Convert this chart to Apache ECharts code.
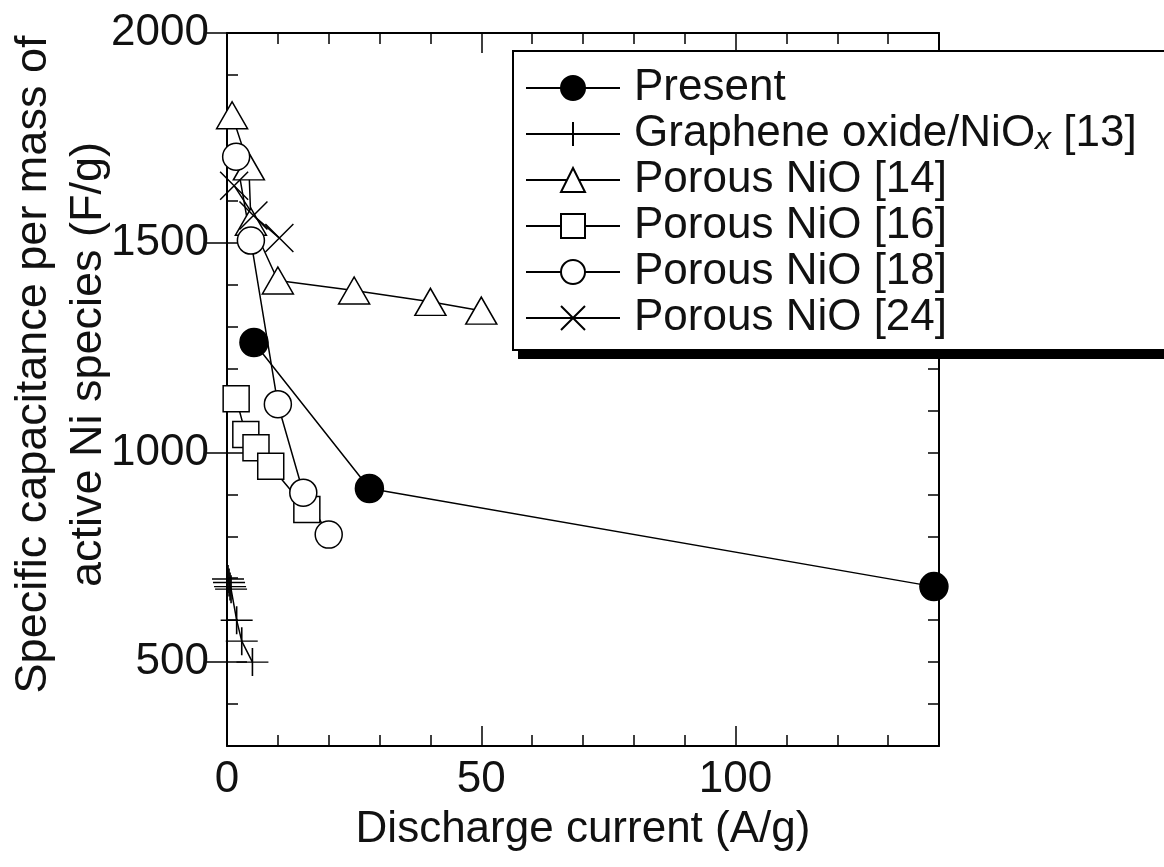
<!DOCTYPE html>
<html>
<head>
<meta charset="utf-8">
<script src="https://cdn.jsdelivr.net/npm/echarts@6/dist/echarts.min.js"></script>
<style>
  html, body { margin: 0; padding: 0; background: #fff; }
  #chart { width: 1164px; height: 867px; }
</style>
</head>
<body>
<div id="chart"></div>
<script>
// values: [discharge current (A/g), capacitance (F/g)]
const present = [[5.3, 1262], [28, 914], [139, 680]];
const grapheneNiOx13 = [[0.2, 698], [0.4, 690], [0.6, 680], [0.8, 674], [1.9, 600], [2.9, 550], [5, 500]];
const porousNiO14 = [[1, 1804], [4.3, 1682], [4.7, 1550], [10, 1410], [25, 1386], [40, 1359], [50, 1338]];
const porousNiO16 = [[1.8, 1128], [3.7, 1043], [5.7, 1011], [8.6, 967], [15.7, 864]];
const porousNiO18 = [[1.8, 1705], [4.7, 1505], [10, 1115], [15, 904], [20, 804]];
const porousNiO24 = [[1.4, 1636], [5.2, 1565], [10.3, 1511]];

const seriesNames = ['Present', 'Graphene oxide/NiOx [13]', 'Porous NiO [14]', 'Porous NiO [16]', 'Porous NiO [18]', 'Porous NiO [24]'];
const xRange = [0, 140];
const yRange = [300, 2000];
const xMajorTicks = [0, 50, 100];
const yMajorTicks = [500, 1000, 1500, 2000];

const font = 'Liberation Sans, Arial, sans-serif';
const ink = '#111';

const plusPath = 'path://M0,5 L10,5 M5,0 L5,10';
const crossPath = 'path://M0,0 L10,10 M10,0 L0,10';

function minorAxis(position, showLabels, step, majors) {
  const horizontal = position === 'bottom' || position === 'top';
  return {
    type: 'value',
    position: position,
    min: horizontal ? xRange[0] : yRange[0],
    max: horizontal ? xRange[1] : yRange[1],
    interval: step,
    axisLine: { show: true, onZero: false, lineStyle: { color: '#000', width: 2 } },
    axisTick: { show: true, inside: true, length: 11, lineStyle: { color: '#000', width: 1.5 } },
    axisLabel: {
      show: showLabels,
      interval: 0,
      formatter: v => (majors.includes(v) ? String(v) : ''),
      fontSize: 44,
      fontFamily: font,
      color: ink,
      margin: horizontal ? 12 : 18
    },
    splitLine: { show: false }
  };
}

function majorAxis(position, majors) {
  const horizontal = position === 'bottom' || position === 'top';
  return {
    type: 'value',
    position: position,
    min: horizontal ? xRange[0] : yRange[0],
    max: horizontal ? xRange[1] : yRange[1],
    axisLine: { show: false },
    axisTick: { show: true, inside: true, length: 20, customValues: majors, lineStyle: { color: '#000', width: 1.5 } },
    axisLabel: { show: false },
    splitLine: { show: false }
  };
}

const xBottom = minorAxis('bottom', true, 10, xMajorTicks);
xBottom.name = 'Discharge current (A/g)';
xBottom.nameLocation = 'middle';
xBottom.nameGap = 62;
xBottom.nameMoveOverlap = false;
xBottom.nameTextStyle = { fontSize: 44, fontFamily: font, color: ink };

const yLeft = minorAxis('left', true, 100, yMajorTicks);
yLeft.name = 'Specific capacitance per mass of\nactive Ni species (F/g)';
yLeft.nameLocation = 'middle';
yLeft.nameGap = 111;
yLeft.nameMoveOverlap = false;
yLeft.nameTextStyle = { fontSize: 45, fontFamily: font, color: ink, lineHeight: 55, padding: [0, 0, 0, 50] };

function lineSeries(name, data, symbol, size, fill) {
  return {
    name: name,
    type: 'line',
    data: data,
    symbol: symbol,
    symbolSize: size,
    symbolKeepAspect: false,
    lineStyle: { color: '#000', width: 1.5 },
    itemStyle: { color: fill, borderColor: '#000', borderWidth: 1.5 },
    emphasis: { disabled: true },
    z: 2
  };
}

const chart = echarts.init(document.getElementById('chart'), null, { renderer: 'canvas' });
chart.setOption({
  animation: false,
  backgroundColor: '#fff',
  grid: { left: 227, right: 225, top: 33, bottom: 121, containLabel: false, outerBoundsMode: 'none' },
  xAxis: [
    xBottom,
    majorAxis('bottom', xMajorTicks),
    minorAxis('top', false, 10, xMajorTicks),
    majorAxis('top', xMajorTicks)
  ],
  yAxis: [
    yLeft,
    majorAxis('left', yMajorTicks),
    minorAxis('right', false, 100, yMajorTicks),
    majorAxis('right', yMajorTicks)
  ],
  graphic: [
    {
      type: 'rect',
      z: 3,
      shape: { x: 518, y: 58, width: 720, height: 301 },
      style: { fill: '#000' }
    },
    {
      type: 'rect',
      z: 4,
      shape: { x: 513, y: 51, width: 720, height: 299 },
      style: { fill: '#fff', stroke: '#000', lineWidth: 2 }
    }
  ],
  legend: {
    z: 6,
    left: 520,
    top: 61,
    orient: 'vertical',
    itemWidth: 94,
    itemHeight: 30,
    itemGap: 2,
    data: seriesNames,
    formatter: name => {
      if (name === 'Graphene oxide/NiOx [13]') return '{n|Graphene oxide/NiO}{s|x}{n| [13]}';
      return '{n|' + name + '}';
    },
    textStyle: {
      fontSize: 44,
      fontFamily: font,
      color: ink,
      lineHeight: 44,
      padding: [0, 0, 0, 9],
      rich: {
        n: { fontSize: 44, fontFamily: font, color: ink, lineHeight: 44 },
        s: { fontSize: 32, fontFamily: font, fontStyle: 'italic', color: ink, lineHeight: 22, verticalAlign: 'bottom' }
      }
    }
  },
  series: [
    lineSeries(seriesNames[0], present, 'circle', 28, '#000'),
    lineSeries(seriesNames[1], grapheneNiOx13, plusPath, [32, 28], 'transparent'),
    lineSeries(seriesNames[2], porousNiO14, 'triangle', [31, 27], '#fff'),
    lineSeries(seriesNames[3], porousNiO16, 'rect', 26, '#fff'),
    lineSeries(seriesNames[4], porousNiO18, 'circle', 27, '#fff'),
    lineSeries(seriesNames[5], porousNiO24, crossPath, 28, 'transparent')
  ]
});
</script>
</body>
</html>
